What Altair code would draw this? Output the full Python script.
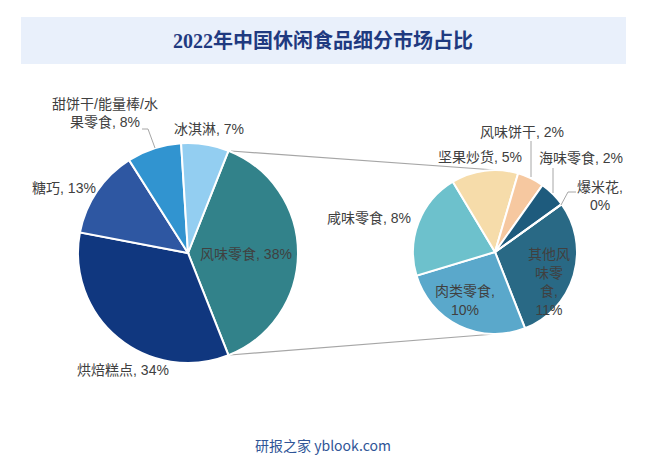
import math
import altair as alt
import pandas as pd

# ---------------- data ----------------
title_text = "2022年中国休闲食品细分市场占比"
footer_text = "研报之家 yblook.com"

main_cats = ["风味零食", "烘焙糕点", "糖巧", "甜饼干/能量棒/水果零食", "冰淇淋"]
main_vals = [38, 34, 13, 8, 7]

sub_cats = ["其他风味零食", "肉类零食", "咸味零食", "坚果炒货", "风味饼干", "海味零食", "爆米花"]
sub_vals = [11, 10, 8, 5, 2, 2, 0]

# ---------------- styles / layout ----------------
main_colors = ["#32828a", "#10377f", "#2e57a2", "#3194d0", "#93cef1"]
sub_colors = ["#296985", "#5aa8cb", "#6dc1cc", "#f6dcaa", "#f6c8a0", "#1e5b7d", "#3a7fa5"]

main_center, main_r = (188, 253), 110
sub_center, sub_r = (495, 252), 82
main_start_deg = 90 - main_vals[0] / sum(main_vals) * 180
sub_start_deg = 54.3

# anchor = centre of the first text line
main_label_xy = [(246, 255), (123, 371), (64, 189), (105, 104.5), (209, 130)]
main_label_breaks = [[], [], [], [9], []]
sub_label_xy = [(549, 255), (465, 292), (369, 219), (480, 158), (522, 133), (581, 159), (600, 187.5)]
sub_label_breaks = [[3, 5, 7], [5], [], [], [], [], [4]]

leader_lines = [
    [(142, 129), (148, 129), (155, 148)],
    [(531, 141), (531, 177)],
    [(553, 168), (553, 193)],
    [(576, 192), (568, 192), (561, 205)],
]
connector_lines = [
    [(231, 151), (sub_center[0], sub_center[1] - sub_r)],
    [(230, 355), (sub_center[0], sub_center[1] + sub_r)],
]

W, H = 631, 447
xs = alt.Scale(domain=[8, 8 + W], range=[0, W])
ys = alt.Scale(domain=[8, 8 + H], range=[0, H])

all_cats = main_cats + sub_cats
all_colors = main_colors + sub_colors
cscale = alt.Scale(domain=all_cats, range=all_colors)


def split_at(text, idxs):
    parts, prev = [], 0
    for i in idxs:
        parts.append(text[prev:i].strip())
        prev = i
    parts.append(text[prev:].strip())
    return "\n".join(parts)


def X(f="x"):
    return alt.X(f"{f}:Q", scale=xs, axis=None)


def Y(f="y"):
    return alt.Y(f"{f}:Q", scale=ys, axis=None)


def pie(cats, vals, center, r, start_deg):
    df = pd.DataFrame({"cat": cats, "value": vals, "idx": list(range(len(cats)))})
    a0 = math.radians(start_deg)
    return alt.Chart(df).mark_arc(radius=r, stroke="white", strokeWidth=2).encode(
        x=alt.datum(center[0], scale=xs, axis=None),
        y=alt.datum(center[1], scale=ys, axis=None),
        theta=alt.Theta("value:Q", stack=True, scale=alt.Scale(range=[a0, a0 + 2 * math.pi])),
        color=alt.Color("cat:N", scale=cscale, legend=None),
        order=alt.Order("idx:Q"),
    )


main_pie = pie(main_cats, main_vals, main_center, main_r, main_start_deg)
sub_pie = pie(sub_cats, sub_vals, sub_center, sub_r, sub_start_deg)

# labels
lab_rows = []
for cats, vals, xy, brk in [(main_cats, main_vals, main_label_xy, main_label_breaks),
                            (sub_cats, sub_vals, sub_label_xy, sub_label_breaks)]:
    for c, v, (lx, ly), b in zip(cats, vals, xy, brk):
        lab_rows.append({"text": split_at(f"{c}, {v}%", b), "x": lx, "y": ly})
labels = alt.Chart(pd.DataFrame(lab_rows)).mark_text(
    font="Liberation Sans, Noto Sans CJK SC", fontSize=14, color="#404040",
    align="center", baseline="middle", lineBreak="\n", lineHeight=18.7,
).encode(x=X(), y=Y(), text="text:N")


def polylines(lines):
    rows = []
    for i, pts in enumerate(lines):
        for j, (px, py) in enumerate(pts):
            rows.append({"line": i, "o": j, "x": px, "y": py})
    return pd.DataFrame(rows)


leaders = alt.Chart(polylines(leader_lines)).mark_line(color="#a6a6a6", strokeWidth=1).encode(
    x=X(), y=Y(), detail="line:N", order="o:Q")
connectors = alt.Chart(polylines(connector_lines)).mark_line(color="#a6a6a6", strokeWidth=1.2).encode(
    x=X(), y=Y(), detail="line:N", order="o:Q")

title_box = alt.Chart(pd.DataFrame({"x": [21], "x2": [626], "y": [17], "y2": [64]})).mark_rect(
    color="#e9f0fb").encode(x=X(), x2="x2:Q", y=Y(), y2="y2:Q")
title = alt.Chart(pd.DataFrame({"t": [title_text], "x": [323], "y": [42]})).mark_text(
    font="Liberation Serif, Noto Sans CJK SC", fontSize=20, fontWeight="bold", color="#1f3a80",
    align="center", baseline="middle").encode(x=X(), y=Y(), text="t:N")
footer = alt.Chart(pd.DataFrame({"t": [footer_text], "x": [323], "y": [447]})).mark_text(
    font="Noto Sans CJK SC", fontSize=14, color="#2f5597",
    align="center", baseline="middle").encode(x=X(), y=Y(), text="t:N")

chart = alt.layer(
    title_box, title, connectors, main_pie, sub_pie, leaders, labels, footer
).resolve_scale(theta="independent").properties(
    width=W, height=H, padding=0, autosize=alt.AutoSizeParams(type="none"), background="white"
).configure_view(stroke=None)

chart.save("out.html", embed_options={"renderer": "svg", "actions": False})
